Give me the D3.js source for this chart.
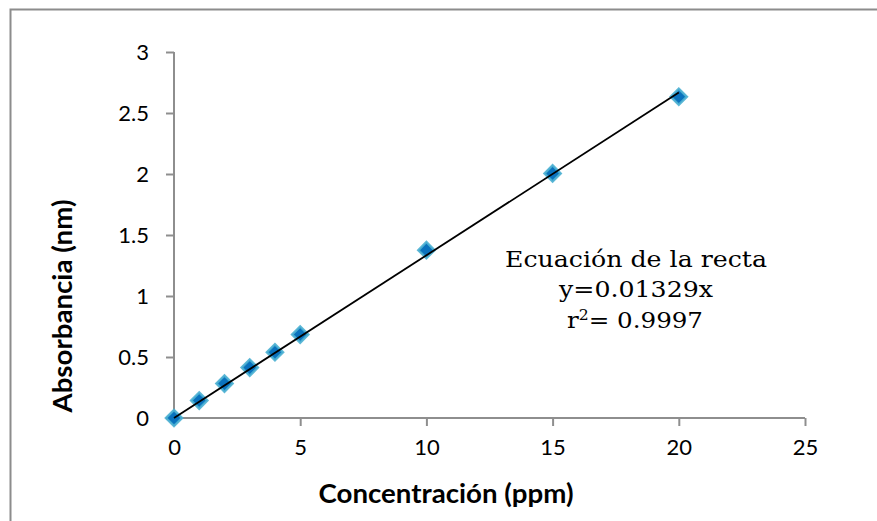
<!DOCTYPE html>
<html>
<head>
<meta charset="utf-8">
<script src="https://cdn.jsdelivr.net/npm/d3@7"></script>
<style>
  html, body { margin: 0; padding: 0; background: #fff; }
  svg { display: block; }
</style>
</head>
<body>
<svg id="chart" width="877" height="521"></svg>
<script>
// Calibration data: concentration (ppm) vs absorbance
const concentration = [0, 1, 2, 3, 4, 5, 10, 15, 20];
const absorbance = [0, 0.143, 0.282, 0.413, 0.539, 0.684, 1.376, 2.005, 2.633];
const xTicks = [0, 5, 10, 15, 20, 25];
const yTicks = [0, 0.5, 1, 1.5, 2, 2.5, 3];
const equationLines = ["Ecuación de la recta", "y=0.01329x"];
const r2Label = { base: "r", sup: "2", rest: "= 0.9997" };

const svg = d3.select("#chart");

// chart area frame
svg.append("rect")
  .attr("x", 10.5).attr("y", 9.5)
  .attr("width", 900).attr("height", 600)
  .attr("fill", "#fff")
  .attr("stroke", "#8c8c8c").attr("stroke-width", 2);

const plot = { left: 174, right: 805, top: 52, bottom: 418 };

const x = d3.scaleLinear().domain([0, 25]).range([plot.left, plot.right]);
const y = d3.scaleLinear().domain([0, 3]).range([plot.bottom, plot.top]);

const tickFont = "Lato, 'Open Sans', sans-serif";
const axisColor = "#8e8e8e";

// x axis
const xAxis = svg.append("g")
  .attr("transform", `translate(0,${plot.bottom})`)
  .call(d3.axisBottom(x).tickValues(xTicks).tickSize(8).tickPadding(13).tickFormat(d3.format("")));
// y axis
const yAxis = svg.append("g")
  .attr("transform", `translate(${plot.left},0)`)
  .call(d3.axisLeft(y).tickValues(yTicks).tickSize(8).tickPadding(17).tickFormat(d3.format("")));

[xAxis, yAxis].forEach(g => {
  g.select(".domain").attr("stroke", axisColor).attr("stroke-width", 2);
  g.selectAll(".tick line").attr("stroke", axisColor).attr("stroke-width", 2);
  g.selectAll(".tick text")
    .attr("fill", "#000")
    .style("font-family", tickFont)
    .style("font-size", "22px");
});
xAxis.select(".domain").attr("d", `M${plot.left},0H${plot.right}`);
yAxis.select(".domain").attr("d", `M0,${plot.bottom}V${plot.top}`);

// least-squares trend line through the origin
const slope = d3.sum(concentration, (c, i) => c * absorbance[i]) / d3.sum(concentration, c => c * c);
const xMax = d3.max(concentration);

// diamond markers
const diamond = d3.symbol().type(d3.symbolSquare).size(130);
svg.append("g").selectAll("path")
  .data(concentration.map((c, i) => [c, absorbance[i]]))
  .join("path")
  .attr("d", diamond)
  .attr("transform", d => `translate(${x(d[0])},${y(d[1])}) rotate(45)`)
  .attr("fill", "#0a72bd")
  .attr("stroke", "#4bb0d2")
  .attr("stroke-width", 2.5)
  .attr("stroke-opacity", 0.9);

// trend line drawn over the markers
svg.append("line")
  .attr("x1", x(0)).attr("y1", y(0))
  .attr("x2", x(xMax)).attr("y2", y(slope * xMax))
  .attr("stroke", "#000").attr("stroke-width", 1.8);

// axis titles
svg.append("text")
  .attr("x", 446).attr("y", 503)
  .attr("text-anchor", "middle")
  .attr("textLength", 255).attr("lengthAdjust", "spacingAndGlyphs")
  .style("font-family", tickFont)
  .style("font-weight", "bold")
  .style("font-size", "26px")
  .text("Concentración (ppm)");

svg.append("text")
  .attr("transform", "translate(72,306) rotate(-90)")
  .attr("text-anchor", "middle")
  .attr("textLength", 213).attr("lengthAdjust", "spacingAndGlyphs")
  .style("font-family", tickFont)
  .style("font-weight", "bold")
  .style("font-size", "26px")
  .text("Absorbancia (nm)");

// equation annotation
const eqFont = "'DejaVu Serif', 'Liberation Serif', serif";
const eq = svg.append("g")
  .style("font-family", eqFont)
  .style("font-size", "22px")
  .attr("text-anchor", "middle");
const eqWidths = [262, 154];
equationLines.forEach((t, i) => {
  eq.append("text").attr("x", 636).attr("y", 267 + i * 30)
    .attr("textLength", eqWidths[i]).attr("lengthAdjust", "spacingAndGlyphs")
    .text(t);
});
const r2 = eq.append("text").attr("x", 635).attr("y", 328)
  .attr("textLength", 136).attr("lengthAdjust", "spacingAndGlyphs");
r2.append("tspan").text(r2Label.base);
r2.append("tspan").attr("dy", -8).style("font-size", "14px").text(r2Label.sup);
r2.append("tspan").attr("dy", 8).text(r2Label.rest);
</script>
</body>
</html>
